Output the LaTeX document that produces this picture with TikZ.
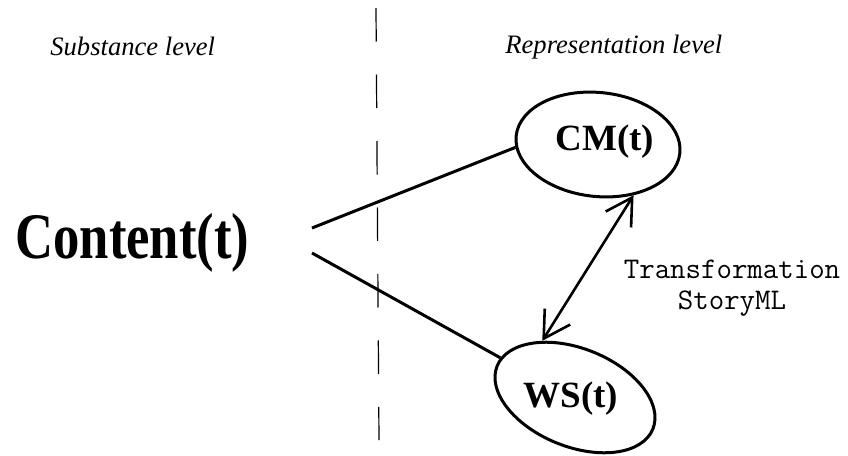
\documentclass[tikz,border=0pt]{standalone}
\usepackage{fontspec}
\setmainfont{Liberation Serif}
\newfontfamily\condserif[FakeStretch=0.81]{Liberation Serif}
\usetikzlibrary{shapes.geometric,arrows.meta}
\tikzset{
  lvltext/.style={anchor=base west,inner sep=0pt,
                  font=\fontsize{13.3}{16}\selectfont\itshape},
  bigtext/.style={anchor=base west,inner sep=0pt,
                  font=\condserif\fontsize{32.5}{36}\selectfont\bfseries},
  oval/.style={ellipse,draw,line width=1.5pt,inner sep=0pt},
  ovaltext/.style={anchor=base,inner sep=0pt,
                   font=\fontsize{18.5}{22}\selectfont\bfseries},
  monotext/.style={anchor=base,align=center,inner sep=0pt,
                   font=\fontsize{15}{15.5}\selectfont\ttfamily},
  joinline/.style={line width=1.5pt},
  swaparrow/.style={{Straight Barb[length=13pt,width=15pt]}-{Straight Barb[length=13pt,width=15pt]},
                    line width=1.3pt},
  divide/.style={line width=0.6pt,dash pattern=on 16.75pt off 16.5pt},
}
\begin{document}
\begin{tikzpicture}[x=0.5pt,y=-0.5pt]
  \useasboundingbox (0,0) rectangle (848,456);
  % the two levels
  \draw[divide] (376,8) -- (379,440);
  \node[lvltext] (subst) at (50,55) {Substance level};
  \node[lvltext] (repr) at (505,53) {Representation level};

  \node[bigtext] (content) at (15,258) {Content(t)};
  \coordinate (upend) at (312,228);
  \coordinate (lowend) at (312,253);

  \node[oval,rotate=-6,minimum width=82.3pt,minimum height=52pt] (cm) at (598,144.5) {};
  \node[ovaltext] (cmlabel) at (605,150) {CM(t)};
  \node[oval,rotate=-22,minimum width=84pt,minimum height=49pt] (ws) at (575,397.5) {};
  \node[ovaltext] (wslabel) at (571,407) {WS(t)};

  \draw[joinline] (upend) -- (cm.188.5);
  \draw[joinline] (lowend) -- (ws.174.5);
  \draw[swaparrow] (cm.-49) -- (ws.142.7);
  \node[monotext] (trans) at (732,309) {Transformation\\StoryML};
\end{tikzpicture}
\end{document}
